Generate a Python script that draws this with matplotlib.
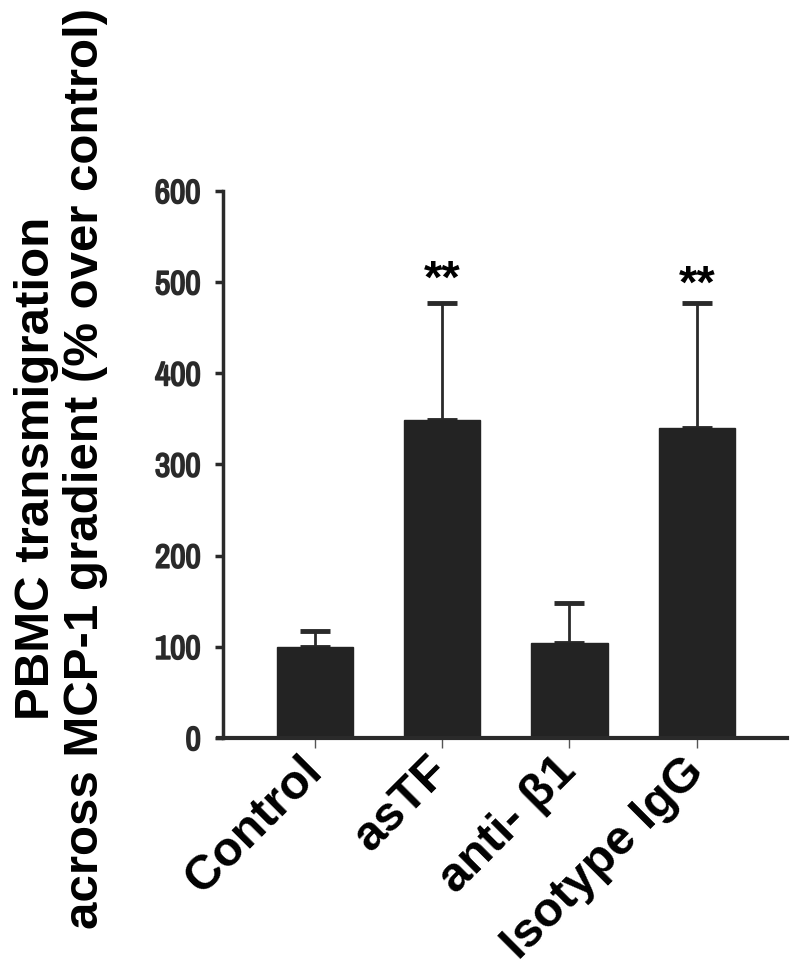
import numpy as np
import matplotlib
matplotlib.use('Agg')
import matplotlib.pyplot as plt
import matplotlib.patheffects as pe
from matplotlib import font_manager as fm
from matplotlib.transforms import ScaledTranslation

# data
groups = ['Control', 'asTF', 'anti- β1', 'Isotype IgG']
means = [100, 349, 104, 340]
sem_up = [17, 128, 44, 137]
stars = ['', '**', '', '**']
star_y = [0, 502, 0, 496]
yticks = [0, 100, 200, 300, 400, 500, 600]

bold = ['Liberation Sans', 'DejaVu Sans']

# narrow font for the y tick numbers if one is around
narrow_fam, narrow_stretch = 'Liberation Sans', 'normal'
for f in fm.fontManager.ttflist:
    if 'Narrow' in f.name:
        narrow_fam, narrow_stretch = f.name, 'normal'
        break
    if f.name == 'DejaVu Sans' and f.stretch == 'condensed':
        narrow_fam, narrow_stretch = 'DejaVu Sans', 'condensed'

fig = plt.figure(figsize=(8, 9.8), dpi=100)
ax = fig.add_axes([0.279, 1 - 738/980, 0.705, (738 - 191)/980])

x = np.arange(len(groups))
ax.bar(x, means, width=0.6, color='#232323', edgecolor='#232323', zorder=2)
ax.errorbar(x, means, yerr=[np.zeros(len(x)), sem_up], fmt='none',
            ecolor='#2a2a2a', elinewidth=2, capsize=11, capthick=3.5, zorder=1)

for xi, s, sy in zip(x, stars, star_y):
    if s:
        ax.text(xi, sy, s, ha='center', va='center', fontsize=34,
                fontweight='bold', family=bold)

ax.set_xlim(-0.72, 3.71)
ax.set_ylim(0, 600)
ax.set_yticks(yticks)
ax.set_xticks(x)
ax.set_xticklabels(groups, rotation=45, ha='right', va='center', rotation_mode='anchor',
                   fontsize=35, fontweight='bold', family=bold)
shift = ScaledTranslation(10/100, 0, fig.dpi_scale_trans)
for lab in ax.get_xticklabels():
    lab.set_transform(lab.get_transform() + shift)
for lab in ax.get_yticklabels():
    lab.set_family(narrow_fam)
    lab.set_stretch(narrow_stretch)
    lab.set_fontweight('bold')
    lab.set_fontsize(24)
    lab.set_color('#2a2a2a')
    lab.set_path_effects([pe.withStroke(linewidth=1.3, foreground='#2a2a2a')])

for side in ['top', 'right']:
    ax.spines[side].set_visible(False)
ax.spines['left'].set_linewidth(2.5)
ax.spines['bottom'].set_linewidth(3)
ax.spines['left'].set_color('#2a2a2a')
ax.spines['bottom'].set_color('#2a2a2a')
ax.spines['bottom'].set_bounds(-0.76, 3.71)
ax.tick_params(axis='y', direction='out', length=6, width=2.5, pad=10, colors='#2a2a2a')
ax.tick_params(axis='x', direction='out', length=7, width=1, pad=12, color='#555555')

fig.text(61/800, 1 - 468/980, 'PBMC transmigration\nacross MCP-1 gradient (% over control)',
         rotation=90, ha='center', va='center', multialignment='center',
         fontsize=35.5, fontweight='bold', family=bold, linespacing=1.12)

fig.savefig('out.png', dpi=100)
